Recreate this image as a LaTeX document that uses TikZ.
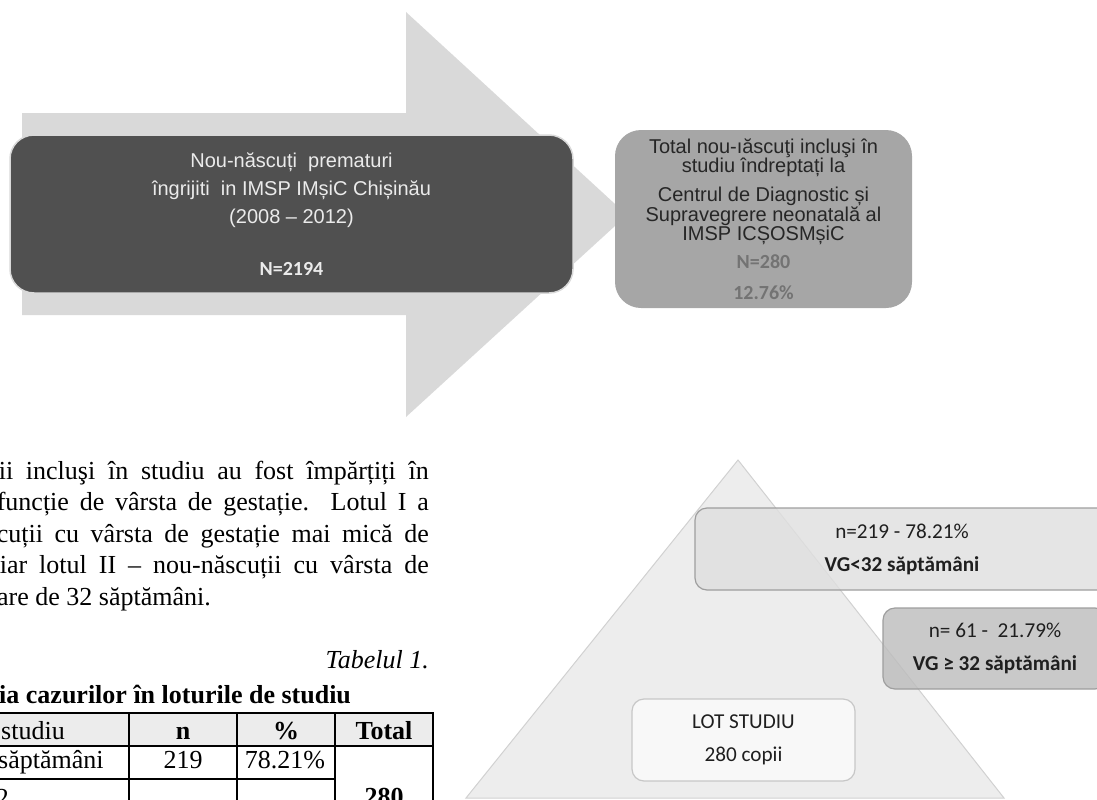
\documentclass[tikz,border=0pt]{standalone}
\usepackage{fontspec}
\setmainfont{Liberation Serif}
\newfontfamily\arialf{Liberation Sans}
\newfontfamily\calibf{Carlito}
\definecolor{arrowgray}{HTML}{D9D9D9}
\definecolor{darkfill}{HTML}{505050}
\definecolor{midfill}{HTML}{A6A6A6}
\definecolor{pyrfill}{HTML}{EDEDED}
\definecolor{lightfill}{HTML}{DFDFDF}
\definecolor{grayfill}{HTML}{BCBCBC}
\definecolor{lotfill}{HTML}{F8F8F8}
\definecolor{headfill}{HTML}{ECECEC}
\begin{document}
\begin{tikzpicture}[
        x=1pt, y=-1pt,
        darkbox/.style={draw=white!85!black, line width=1.5pt, fill=darkfill, rounded corners=24pt, inner sep=0pt, align=center, text=white!92!black, font=\arialf\fontsize{20}{28}\selectfont},
        midbox/.style={fill=midfill, rounded corners=26pt, inner sep=0pt, align=center, text=black!85, font=\arialf\fontsize{20}{19.5}\selectfont},
        levelbox/.style={draw=black!38, line width=1.2pt, rounded corners=12pt, inner sep=0pt, align=center, text=black!88, fill opacity=0.8, text opacity=1, font=\calibf\fontsize{21.2}{33}\selectfont},
        body/.style={inner sep=0pt, font=\fontsize{26}{31}\selectfont},
        rule/.style={line width=1.4pt}
        ]
        \useasboundingbox (0,0) rectangle (1097,800);
        \clip (0,0) rectangle (1097,800);

        % upper diagram
        \fill[arrowgray] (22,113) -- (406,113) -- (406,12) -- (627,215) -- (406,417) -- (406,315) -- (22,315) -- cycle;
        \node[darkbox, minimum width=563pt, minimum height=158pt] (born) at (291.5,214)
            {Nou-născuți\ \ prematuri\\ îngrijiti\ \ in IMSP IMșiC Chișinău\\ (2008 – 2012)\\[24pt] {\calibf\bfseries N=2194}};
        \node[midbox, minimum width=297pt, minimum height=178pt] (sent) at (763.5,219)
            {Total nou-ıăscuţi incluşi în\\ studiu îndreptați la\\[9.5pt] Centrul de Diagnostic și\\ Supravegrere neonatală al\\ IMSP ICȘOSMșiC\\[8pt]
             {\calibf\bfseries\color{black!55}N=280}\\[11.5pt] {\calibf\bfseries\color{black!55}12.76\%}};

        % text column
        \node[body, anchor=base east] (l1) at (429,479) {\makebox[430pt][s]{ii incluşi în studiu au fost împărțiți în}};
        \node[body, anchor=base east] (l2) at (429,510.5) {\makebox[432pt][s]{funcție de vârsta de gestație. Lotul I a}};
        \node[body, anchor=base east] (l3) at (429,542) {\makebox[432pt][s]{cuții cu vârsta de gestație mai mică de}};
        \node[body, anchor=base east] (l4) at (429,573.5) {\makebox[429pt][s]{iar lotul II – nou-născuții cu vârsta de}};
        \node[body, anchor=base west] (l5) at (-3,605) {are de 32 săptămâni.};
        \node[body, anchor=base east] (tabno) at (429,668) {\itshape Tabelul 1.};
        \node[body, anchor=base west] (tabtitle) at (-1,703) {\bfseries ia cazurilor în loturile de studiu};

        % table
        \fill[headfill] (0,713) rectangle (433,746);
        \draw[rule] (0,713) -- (433,713) -- (433,800);
        \draw[rule] (0,746) -- (433,746);
        \draw[rule] (0,779) -- (335,779);
        \foreach \cx in {129,237,335}
            \draw[rule] (\cx,713) -- (\cx,800);
        \node[body, anchor=base west] (hlot) at (1,739) {studiu};
        \node[body, anchor=base] (hn) at (183,739) {\bfseries n};
        \node[body, anchor=base] (hpct) at (286,739) {\bfseries \%};
        \node[body, anchor=base] (htot) at (384,739) {\bfseries Total};
        \node[body, anchor=base west] (r1lot) at (-2,768) {săptămâni};
        \node[body, anchor=base] (r1n) at (183,768) {219};
        \node[body, anchor=base] (r1pct) at (285,768) {78.21\%};
        \node[body, anchor=base east] (r2lot) at (9,806) {2};
        \node[body, anchor=base] (r2tot) at (384,805) {\bfseries 280};

        % lower diagram
        \filldraw[fill=pyrfill, draw=black!18, line width=1pt] (738,460) -- (1004,798) -- (466,798) -- cycle;
        \node[levelbox, fill=lotfill, draw=black!22, fill opacity=1, minimum width=223pt, minimum height=82pt] (lot) at (743.5,740)
            {LOT STUDIU\\ 280 copii};
        \node[levelbox, fill=lightfill, minimum width=414pt, minimum height=82pt] (under32) at (902,549)
            {n=219 - 78.21\%\\ \bfseries VG<32 săptămâni};
        \node[levelbox, fill=grayfill, minimum width=224pt, minimum height=81pt] (over32) at (995,648.5)
            {n= 61 -\ \ 21.79\%\\ \bfseries VG ≥ 32 săptămâni};
    \end{tikzpicture}
\end{document}
